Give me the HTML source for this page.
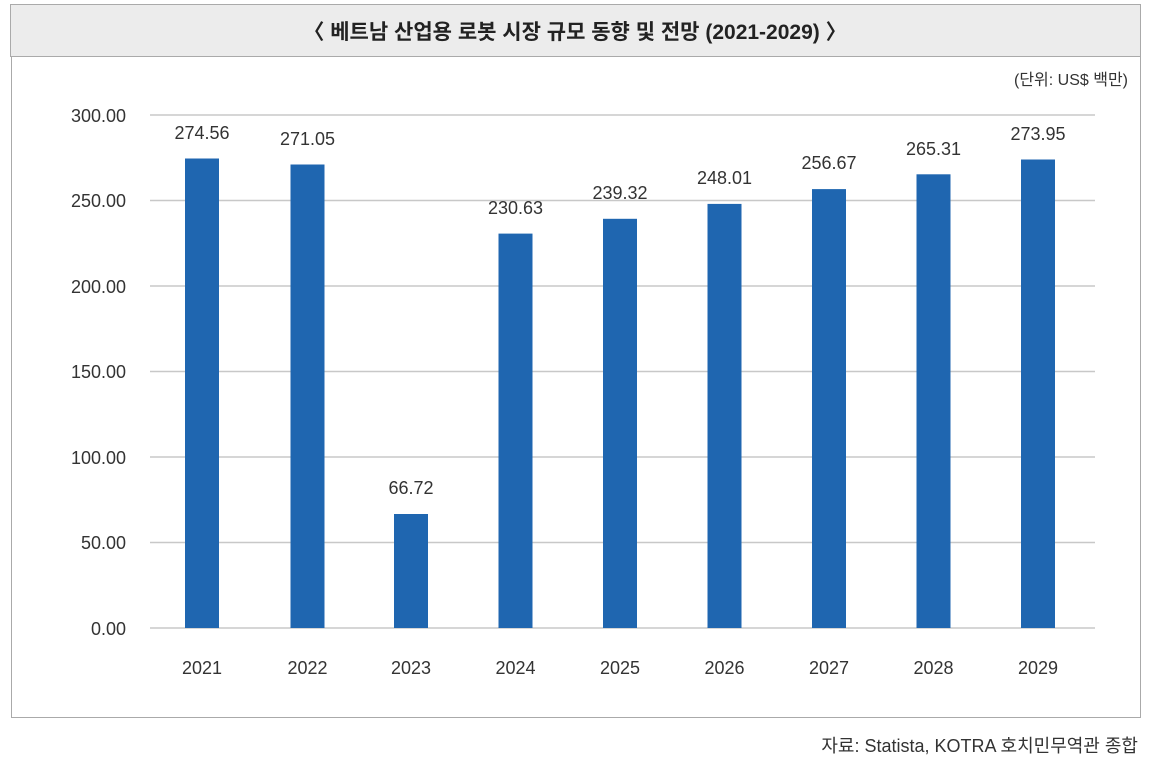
<!DOCTYPE html>
<html><head><meta charset="utf-8"><style>
body{margin:0;background:#fff;width:1156px;height:767px;overflow:hidden;font-family:"Liberation Sans","Noto Sans CJK KR",sans-serif;}
</style></head><body>
<svg width="1156" height="767" xmlns="http://www.w3.org/2000/svg" font-family="'Liberation Sans','Noto Sans CJK KR',sans-serif">
<rect x="10.5" y="4.5" width="1130" height="52" fill="#ececec" stroke="#aaa"/>
<text x="575" y="39" text-anchor="middle" font-size="21" font-weight="bold" fill="#222">〈 베트남 산업용 로봇 시장 규모 동향 및 전망 (2021-2029) 〉</text>
<rect x="11.5" y="56.5" width="1129" height="661" fill="#fff" stroke="#aaa"/>
<text x="1128" y="85" text-anchor="end" font-size="16" fill="#333">(단위: US$ 백만)</text>
<g stroke="#c8c8c8" stroke-width="1.5">
<line x1="150" x2="1095" y1="115" y2="115"/><line x1="150" x2="1095" y1="200.5" y2="200.5"/>
<line x1="150" x2="1095" y1="286" y2="286"/><line x1="150" x2="1095" y1="371.5" y2="371.5"/>
<line x1="150" x2="1095" y1="457" y2="457"/><line x1="150" x2="1095" y1="542.5" y2="542.5"/>
<line x1="150" x2="1095" y1="628" y2="628"/>
</g>
<g font-size="18" fill="#333" text-anchor="end">
<text x="126" y="122">300.00</text><text x="126" y="207">250.00</text><text x="126" y="293">200.00</text>
<text x="126" y="378">150.00</text><text x="126" y="464">100.00</text><text x="126" y="549">50.00</text><text x="126" y="635">0.00</text>
</g>
<g fill="#1f66b0">
<rect x="185" y="158.5" width="34" height="469.5"/>
<rect x="290.5" y="164.5" width="34" height="463.5"/>
<rect x="394" y="514" width="34" height="114"/>
<rect x="498.5" y="233.6" width="34" height="394.4"/>
<rect x="603" y="218.8" width="34" height="409.2"/>
<rect x="707.5" y="203.9" width="34" height="424.1"/>
<rect x="812" y="189.1" width="34" height="438.9"/>
<rect x="916.5" y="174.3" width="34" height="453.7"/>
<rect x="1021" y="159.5" width="34" height="468.5"/>
</g>
<g font-size="18" fill="#333" text-anchor="middle">
<text x="202" y="139">274.56</text><text x="307.5" y="145">271.05</text><text x="411" y="494">66.72</text>
<text x="515.5" y="214">230.63</text><text x="620" y="199">239.32</text><text x="724.5" y="184">248.01</text>
<text x="829" y="169">256.67</text><text x="933.5" y="155">265.31</text><text x="1038" y="140">273.95</text>
<text x="202" y="674">2021</text><text x="307.5" y="674">2022</text><text x="411" y="674">2023</text>
<text x="515.5" y="674">2024</text><text x="620" y="674">2025</text><text x="724.5" y="674">2026</text>
<text x="829" y="674">2027</text><text x="933.5" y="674">2028</text><text x="1038" y="674">2029</text>
</g>
<text x="1138" y="752" text-anchor="end" font-size="18" fill="#333">자료: Statista, KOTRA 호치민무역관 종합</text>
</svg>
</body></html>
